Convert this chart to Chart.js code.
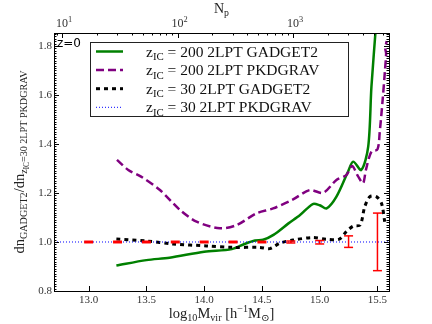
<!DOCTYPE html>
<html>
<head>
<meta charset="utf-8">
<script src="https://cdn.jsdelivr.net/npm/chart.js@4.4.1/dist/chart.umd.min.js"></script>
<style>
  html, body { margin: 0; padding: 0; background: #fff; }
  #wrap { width: 432px; height: 324px; }
</style>
</head>
<body>
<div id="wrap"><canvas id="massFnRatio"></canvas></div>
<script>
// log10 Mvir positions and ratio values
const greenM = [13.24, 13.50, 13.70, 14.00, 14.24, 14.35, 14.44, 14.51, 14.60, 14.73, 14.83, 14.94, 15.00, 15.06, 15.145, 15.245, 15.29, 15.36, 15.42, 15.448, 15.49];
const greenR = [0.904, 0.926, 0.936, 0.960, 0.971, 0.992, 1.006, 1.009, 1.029, 1.076, 1.110, 1.155, 1.150, 1.137, 1.185, 1.287, 1.328, 1.294, 1.389, 1.634, 1.90];

const purpleM = [13.245, 13.343, 13.45, 13.617, 13.79, 13.934, 14.136, 14.28, 14.453, 14.597, 14.77, 14.914, 15.03, 15.145, 15.23, 15.28, 15.33, 15.375, 15.40, 15.448, 15.50, 15.52, 15.545, 15.565, 15.575, 15.568, 15.58];
const purpleR = [1.335, 1.294, 1.268, 1.212, 1.131, 1.083, 1.056, 1.069, 1.117, 1.137, 1.174, 1.212, 1.201, 1.253, 1.273, 1.310, 1.270, 1.240, 1.294, 1.369, 1.378, 1.450, 1.580, 1.700, 1.770, 1.790, 1.820];

const blackM = [13.24, 13.50, 13.73, 14.02, 14.25, 14.48, 14.57, 14.655, 14.77, 14.94, 15.06, 15.17, 15.23, 15.29, 15.35, 15.39, 15.435, 15.49, 15.535, 15.563];
const blackR = [1.012, 1.004, 0.992, 0.984, 0.978, 0.978, 0.973, 0.995, 1.008, 1.018, 1.011, 1.012, 1.042, 1.065, 1.069, 1.144, 1.185, 1.185, 1.158, 1.083];

// error bars of the reference ratio
const errM = [13.0, 13.25, 13.5, 13.75, 14.0, 14.25, 14.5, 14.75, 15.0, 15.25, 15.5];
const errLo = [0.997, 0.997, 0.997, 0.997, 0.997, 0.997, 0.997, 0.996, 0.992, 0.978, 0.883];
const errHi = [1.003, 1.003, 1.003, 1.003, 1.003, 1.003, 1.003, 1.004, 1.006, 1.025, 1.118];

const xTicks = [13.0, 13.5, 14.0, 14.5, 15.0, 15.5];
const yTicks = [0.8, 1.0, 1.2, 1.4, 1.6, 1.8];
const npTicks = [1, 2, 3];          // log10 Np
const npOffset = 11.77;             // log10 Mvir - log10 Np

const legendRows = [
    { label: " = 200 2LPT GADGET2", color: "#008000", dash: [], width: 2.5 },
    { label: " = 200 2LPT PKDGRAV", color: "#800080", dash: [8, 4], width: 2.5 },
    { label: " = 30 2LPT GADGET2", color: "#000000", dash: [4, 4], width: 3 },
    { label: " = 30 2LPT PKDGRAV", color: "#0000ff", dash: [1, 2], width: 1 }
];

const SERIF = "'Liberation Serif', 'DejaVu Serif', serif";

function pts(xs, ys) {
    return xs.map((x, i) => ({ x: x, y: ys[i] }));
}

// error bar segments, separated by gaps
const errPts = [];
errM.forEach((m, i) => {
    errPts.push({ x: m, y: errLo[i] }, { x: m, y: errHi[i] }, { x: m, y: null });
});
const capPts = [];
errM.forEach((m, i) => {
    capPts.push({ x: m, y: errLo[i] }, { x: m, y: errHi[i] });
});

// text with sub/superscripts: runs of [text, level]
function runSize(size, lvl) {
    if (lvl === 0) return size;
    if (lvl === 2) return size * 0.5;
    return size * 0.7;
}
function runShift(size, lvl) {
    if (lvl === 1) return size * 0.22;
    if (lvl === 2) return size * 0.35;
    if (lvl === -1) return -size * 0.42;
    return 0;
}
function richWidth(ctx, runs, size) {
    let w = 0;
    runs.forEach(([t, lvl]) => {
        ctx.font = runSize(size, lvl) + "px " + SERIF;
        w += ctx.measureText(t).width;
    });
    return w;
}
function drawRich(ctx, runs, x, y, size, align) {
    let cx = x;
    if (align === "center") cx = x - richWidth(ctx, runs, size) / 2;
    ctx.textAlign = "left";
    ctx.textBaseline = "alphabetic";
    runs.forEach(([t, lvl]) => {
        ctx.font = runSize(size, lvl) + "px " + SERIF;
        ctx.fillText(t, cx, y + runShift(size, lvl));
        cx += ctx.measureText(t).width;
    });
}

const decorPlugin = {
    id: "decor",
    afterDraw(chart) {
        const ctx = chart.ctx;
        const a = chart.chartArea;
        const xs = chart.scales.x, ys = chart.scales.y, xt = chart.scales.x2;
        ctx.save();
        ctx.strokeStyle = "#000";
        ctx.fillStyle = "#000";
        ctx.lineWidth = 1;

        // ticks pointing inward
        ctx.beginPath();
        for (let v = 0.8; v <= 1.855; v += 0.01) {
            const y = Math.round(ys.getPixelForValue(v)) + 0.5;
            ctx.moveTo(a.left, y); ctx.lineTo(a.left + 2.5, y);
            ctx.moveTo(a.right, y); ctx.lineTo(a.right - 2.5, y);
        }
        yTicks.forEach(v => {
            const y = Math.round(ys.getPixelForValue(v)) + 0.5;
            ctx.moveTo(a.left, y); ctx.lineTo(a.left + 5, y);
            ctx.moveTo(a.right, y); ctx.lineTo(a.right - 5, y);
        });
        xTicks.forEach(v => {
            const x = Math.round(xs.getPixelForValue(v)) + 0.5;
            ctx.moveTo(x, a.bottom); ctx.lineTo(x, a.bottom - 5);
        });
        for (let n = 0; n <= 3; n++) {
            for (let k = 1; k <= 9; k++) {
                const v = Math.log10(k * Math.pow(10, n));
                if (v < xt.min || v > xt.max) continue;
                const x = Math.round(xt.getPixelForValue(v)) + 0.5;
                ctx.moveTo(x, a.top); ctx.lineTo(x, a.top + (k === 1 ? 5 : 2.5));
            }
        }
        ctx.stroke();

        // frame
        ctx.strokeRect(Math.round(a.left) + 0.5, Math.round(a.top) + 0.5,
            Math.round(a.right - a.left), Math.round(a.bottom - a.top));

        // top tick labels 10^n
        ctx.fillStyle = "#333";
        npTicks.forEach(n => {
            const x = xt.getPixelForValue(n);
            drawRich(ctx, [["10", 0], [String(n), -1]], x + 2, 27, 12, "center");
        });

        // z=0 label
        ctx.fillStyle = "#000";
        ctx.font = "12px 'DejaVu Sans', sans-serif";
        ctx.textAlign = "left";
        ctx.textBaseline = "alphabetic";
        ctx.fillText("z=0", a.left + 3, a.top + 14);

        // legend
        const lx = 90.5, ly = 42.5, lw = 258, lh = 74;
        ctx.fillStyle = "#fff";
        ctx.fillRect(lx, ly, lw, lh);
        ctx.strokeStyle = "#222";
        ctx.strokeRect(lx, ly, lw, lh);
        legendRows.forEach((r, i) => {
            const cy = 51.5 + i * 18.6;
            ctx.beginPath();
            ctx.strokeStyle = r.color;
            ctx.lineWidth = r.width;
            ctx.setLineDash(r.dash);
            ctx.moveTo(96, cy); ctx.lineTo(123, cy);
            ctx.stroke();
            ctx.setLineDash([]);
            ctx.fillStyle = "#111";
            drawRich(ctx, [["z", 0], ["IC", 1], [r.label, 0]], 146, cy + 5, 15.5, "left");
        });

        // axis titles
        ctx.fillStyle = "#222";
        drawRich(ctx, [["N", 0], ["p", 1]], (a.left + a.right) / 2, 13, 14, "center");
        drawRich(ctx, [["log", 0], ["10", 1], ["M", 0], ["vir", 1], [" [h", 0], ["\u22121", -1], ["M", 0], ["\u2299", 1], ["]", 0]],
            (a.left + a.right) / 2, 318, 14.5, "center");
        ctx.translate(24, (a.top + a.bottom) / 2);
        ctx.rotate(-Math.PI / 2);
        drawRich(ctx, [["dn", 0], ["GADGET2", 1], ["/dn", 0], ["z", 1], ["IC", 2], ["=30 2LPT PKDGRAV", 1]], 0, 0, 14.5, "center");
        ctx.restore();
    }
};

const ctx = document.getElementById("massFnRatio").getContext("2d");
const tickFont = { family: SERIF, size: 11 };

new Chart(ctx, {
    type: "scatter",
    data: {
        datasets: [
            {
                data: errPts,
                showLine: true,
                spanGaps: false,
                borderColor: "#ff0000",
                borderWidth: 1.5,
                pointRadius: 0,
                order: 0
            },
            {
                data: capPts,
                showLine: false,
                pointStyle: "line",
                pointRadius: 4.5,
                borderColor: "#ff0000",
                pointBorderWidth: 1.5,
                order: 0
            },
            {
                data: pts([12.7, 15.6], [1.0, 1.0]),
                showLine: true,
                borderColor: "#0000ff",
                borderWidth: 1,
                borderDash: [1, 2],
                pointRadius: 0,
                order: 1
            },
            {
                data: pts(blackM, blackR),
                showLine: true,
                borderColor: "#000000",
                borderWidth: 3,
                borderDash: [4, 4],
                tension: 0.3,
                pointRadius: 0,
                order: 2
            },
            {
                data: pts(purpleM, purpleR),
                showLine: true,
                borderColor: "#800080",
                borderWidth: 2.5,
                borderDash: [8, 4],
                tension: 0.3,
                pointRadius: 0,
                order: 3
            },
            {
                data: pts(greenM, greenR),
                showLine: true,
                borderColor: "#008000",
                borderWidth: 2.5,
                tension: 0.3,
                pointRadius: 0,
                order: 4
            }
        ]
    },
    options: {
        responsive: true,
        maintainAspectRatio: false,
        animation: false,
        devicePixelRatio: 1,
        layout: { padding: { left: 0, right: 43, top: 0, bottom: 0 } },
        plugins: {
            legend: { display: false },
            tooltip: { enabled: false }
        },
        scales: {
            x: {
                type: "linear",
                position: "bottom",
                min: 12.7,
                max: 15.6,
                afterBuildTicks: s => { s.ticks = xTicks.map(v => ({ value: v })); },
                afterFit: s => { s.height = 33; },
                ticks: {
                    font: tickFont,
                    color: "#333",
                    padding: 3,
                    maxRotation: 0,
                    callback: v => v.toFixed(1)
                },
                grid: { display: false, drawTicks: false },
                border: { display: false }
            },
            x2: {
                type: "linear",
                position: "top",
                min: 12.7 - npOffset,
                max: 15.6 - npOffset,
                afterBuildTicks: s => { s.ticks = npTicks.map(v => ({ value: v })); },
                afterFit: s => { s.height = 33; },
                // labels drawn by the decor plugin with real superscripts
                ticks: { display: false },
                grid: { display: false, drawTicks: false },
                border: { display: false }
            },
            y: {
                type: "linear",
                min: 0.8,
                max: 1.853,
                afterBuildTicks: s => { s.ticks = yTicks.map(v => ({ value: v })); },
                afterFit: s => { s.width = 54; },
                ticks: {
                    font: tickFont,
                    color: "#333",
                    padding: 2,
                    callback: v => v.toFixed(1)
                },
                grid: { display: false, drawTicks: false },
                border: { display: false }
            }
        }
    },
    plugins: [decorPlugin]
});
</script>
</body>
</html>
